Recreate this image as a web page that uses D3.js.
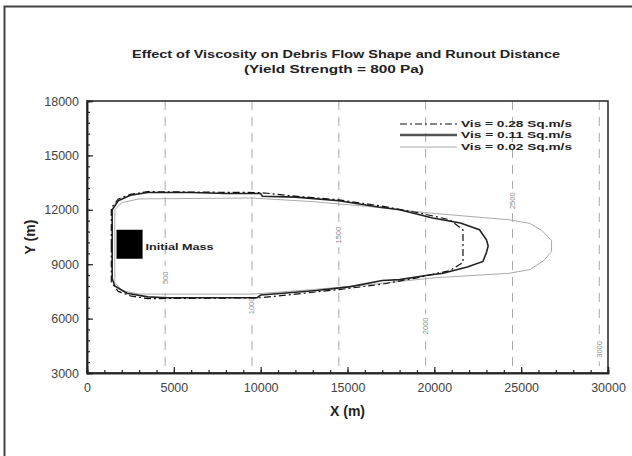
<!DOCTYPE html>
<html>
<head>
<meta charset="utf-8">
<script src="https://cdn.jsdelivr.net/npm/d3@7"></script>
<style>
  body { margin: 0; background: #fff; }
  svg { display: block; font-family: "Liberation Sans", Arial, sans-serif; }
</style>
</head>
<body>
<svg id="chart" width="632" height="456"></svg>
<script>
// tick values
const xTicks = [0, 5000, 10000, 15000, 20000, 25000, 30000]
const yTicks = [3000, 6000, 9000, 12000, 15000, 18000]

// flow outlines (x, y in m)
const vis028 = [[1400,10000],[1400,12100],[1800,12600],[2500,12850],[3500,13000],[10000,12950],[12000,12750],[14500,12550],[17000,12200],[19000,11850],[20900,11450],[21650,10900],[21650,9100],[20900,8650],[19000,8250],[17000,7900],[14500,7600],[12000,7350],[10000,7150],[3500,7100],[2500,7250],[1800,7500],[1400,8000],[1400,10000]]
const vis011 = [[1450,10000],[1450,12000],[1800,12500],[2500,12800],[3500,12950],[6000,12950],[8000,12900],[10000,12900],[10100,12750],[12000,12700],[14500,12500],[16800,12150],[18000,12000],[19900,11550],[21500,11270],[22600,10900],[23000,10350],[23100,10000],[23000,9650],[22800,9150],[21900,8850],[20500,8500],[19700,8400],[18000,8150],[17000,8100],[15100,7750],[13200,7550],[11300,7400],[10000,7300],[9800,7150],[4600,7150],[3500,7200],[2300,7400],[1600,7800],[1450,8200],[1450,10000]]
const vis002 = [[1600,10000],[1600,12000],[2000,12400],[3000,12600],[9500,12650],[13000,12450],[16000,12200],[20000,11800],[24300,11450],[25500,11250],[26200,10850],[26750,10300],[26750,9700],[26300,9200],[25500,8700],[24300,8500],[20000,8250],[16000,7850],[13000,7600],[9500,7350],[3000,7350],[2000,7550],[1600,8000],[1600,10000]]

// elevation contours (x position, label, label y)
const contourX = [4500, 9500, 14500, 19500, 24500, 29500]
const contourLab = ['500', '1000', '1500', '2000', '2500', '3000']
const contourLabY = [8250, 6700, 10600, 5600, 12500, 4300]

// initial mass box [x0, x1, y0, y1]
const initialMass = [1700, 3200, 9300, 10900]

const legendLabels = ['Vis = 0.28 Sq.m/s', 'Vis = 0.11 Sq.m/s', 'Vis = 0.02 Sq.m/s']

const svg = d3.select('#chart')

const x = d3.scaleLinear().domain([0, 30000]).range([87, 608])
const y = d3.scaleLinear().domain([3000, 18000]).range([373, 101])

// outer frame (left and top only)
svg.append('path')
  .attr('d', 'M4.5,456 L4.5,6.5 L632,6.5')
  .attr('fill', 'none')
  .attr('stroke', '#444')
  .attr('stroke-width', 2)

// title
svg.append('text')
  .attr('x', 346).attr('y', 58)
  .attr('text-anchor', 'middle')
  .attr('font-size', 11).attr('font-weight', 'bold').attr('fill', '#222')
  .attr('textLength', 428).attr('lengthAdjust', 'spacingAndGlyphs')
  .text('Effect of Viscosity on Debris Flow Shape and Runout Distance')
svg.append('text')
  .attr('x', 334).attr('y', 73)
  .attr('text-anchor', 'middle')
  .attr('font-size', 11).attr('font-weight', 'bold').attr('fill', '#222')
  .attr('textLength', 180).attr('lengthAdjust', 'spacingAndGlyphs')
  .text('(Yield Strength = 800 Pa)')

// contour lines
const cont = svg.append('g')
cont.selectAll('line')
  .data(contourX)
  .join('line')
  .attr('x1', d => x(d)).attr('x2', d => x(d))
  .attr('y1', y(18000)).attr('y2', y(3000))
  .attr('stroke', '#aaa')
  .attr('stroke-width', 1)
  .attr('stroke-dasharray', '9,7')
cont.selectAll('g')
  .data(contourX)
  .join('g')
  .attr('transform', (d, i) => `translate(${x(d)},${y(contourLabY[i])}) rotate(-90)`)
  .each(function (d, i) {
    const g = d3.select(this)
    g.append('rect').attr('x', -12).attr('y', -4).attr('width', 24).attr('height', 8).attr('fill', '#fff')
    g.append('text')
      .attr('text-anchor', 'middle').attr('dy', 2.5)
      .attr('font-size', 7.5).attr('fill', '#888')
      .text(contourLab[i])
  })

// outlines
const line = d3.line().x(d => x(d[0])).y(d => y(d[1]))
svg.append('path').datum(vis002)
  .attr('d', line).attr('fill', 'none')
  .attr('stroke', '#aaa').attr('stroke-width', 1)
svg.append('path').datum(vis011)
  .attr('d', line).attr('fill', 'none')
  .attr('stroke', '#222').attr('stroke-width', 1.6)
svg.append('path').datum(vis028)
  .attr('d', line).attr('fill', 'none')
  .attr('stroke', '#111').attr('stroke-width', 1.2)
  .attr('stroke-dasharray', '7,3,2,3')

// initial mass
svg.append('rect')
  .attr('x', x(initialMass[0])).attr('y', y(initialMass[3]))
  .attr('width', x(initialMass[1]) - x(initialMass[0]))
  .attr('height', y(initialMass[2]) - y(initialMass[3]))
  .attr('fill', '#000')
svg.append('text')
  .attr('x', x(initialMass[1]) + 3).attr('y', y(10000) + 3.5)
  .attr('font-size', 9.5).attr('font-weight', 'bold').attr('fill', '#222')
  .attr('textLength', 68).attr('lengthAdjust', 'spacingAndGlyphs')
  .text('Initial Mass')

// legend
const legStyles = [
  { stroke: '#111', width: 1.2, dash: '7,3,2,3' },
  { stroke: '#555', width: 2.5, dash: null },
  { stroke: '#aaa', width: 1, dash: null }
]
const legY = [124, 135, 147]
const leg = svg.append('g')
legendLabels.forEach((lab, i) => {
  leg.append('line')
    .attr('x1', 400).attr('x2', 457)
    .attr('y1', legY[i]).attr('y2', legY[i])
    .attr('stroke', legStyles[i].stroke)
    .attr('stroke-width', legStyles[i].width)
    .attr('stroke-dasharray', legStyles[i].dash)
  leg.append('text')
    .attr('x', 461).attr('y', legY[i] + 3.2)
    .attr('font-size', 9).attr('font-weight', 'bold').attr('fill', '#222')
    .attr('textLength', 111).attr('lengthAdjust', 'spacingAndGlyphs')
    .text(lab)
})

// plot box
svg.append('rect')
  .attr('x', x(0)).attr('y', y(18000))
  .attr('width', x(30000) - x(0)).attr('height', y(3000) - y(18000))
  .attr('fill', 'none').attr('stroke', '#222').attr('stroke-width', 1.5)

// axes
const xMinor = d3.axisBottom(x).tickValues(d3.range(0, 30001, 1000)).tickSize(-3).tickFormat('')
const xMajor = d3.axisBottom(x).tickValues(xTicks).tickSize(-6).tickPadding(10).tickFormat(d3.format('d'))
const yMinor = d3.axisLeft(y).tickValues(d3.range(3000, 18001, 600)).tickSize(-3).tickFormat('')
const yMajor = d3.axisLeft(y).tickValues(yTicks).tickSize(-6).tickPadding(8).tickFormat(d3.format('d'))

function styleAxis(g) {
  g.select('.domain').attr('stroke', '#222').attr('stroke-width', 1.5)
  g.selectAll('.tick line').attr('stroke', '#222').attr('stroke-width', 1.2)
  g.selectAll('.tick text').attr('font-size', 12.5).attr('fill', '#444')
    .attr('font-family', '"Liberation Sans", Arial, sans-serif')
}
svg.append('g').attr('transform', `translate(0,${y(3000)})`).call(xMinor).call(styleAxis)
svg.append('g').attr('transform', `translate(0,${y(3000)})`).call(xMajor).call(styleAxis)
svg.append('g').attr('transform', `translate(${x(0)},0)`).call(yMinor).call(styleAxis)
svg.append('g').attr('transform', `translate(${x(0)},0)`).call(yMajor).call(styleAxis)

// axis titles
svg.append('text')
  .attr('x', (x(0) + x(30000)) / 2).attr('y', 416)
  .attr('text-anchor', 'middle')
  .attr('font-size', 14).attr('font-weight', 'bold').attr('fill', '#222')
  .text('X (m)')
svg.append('text')
  .attr('transform', `translate(35,${(y(3000) + y(18000)) / 2}) rotate(-90)`)
  .attr('text-anchor', 'middle')
  .attr('font-size', 14).attr('font-weight', 'bold').attr('fill', '#222')
  .text('Y (m)')
</script>
</body>
</html>
